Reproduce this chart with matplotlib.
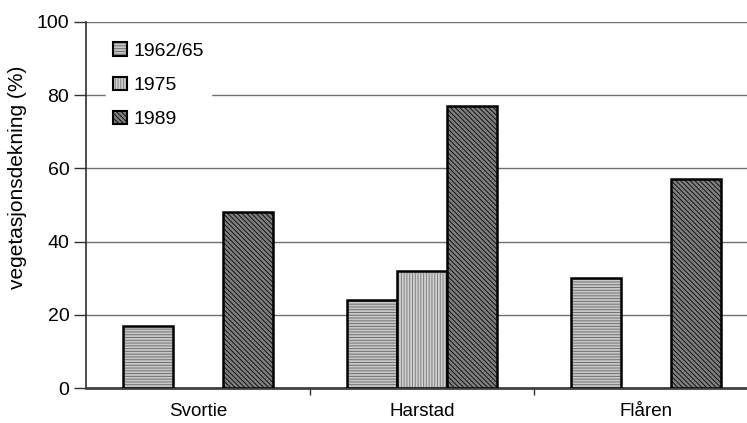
import numpy as np
import matplotlib
matplotlib.use('Agg')
from matplotlib import pyplot as plt

plt.rcParams['font.family'] = ['Liberation Sans', 'DejaVu Sans']
plt.rcParams['hatch.linewidth'] = 0.7

#%% DATA

steder = ['Svortie', 'Harstad', 'Flåren']
aar = ['1962/65', '1975', '1989']
v1962 = [17, 24, 30]
v1975 = [np.nan, 32, np.nan]
v1989 = [48, 77, 57]
yticks = [0, 20, 40, 60, 80, 100]

#%% PLOT

fig = plt.figure(figsize=(7.47, 4.23), dpi=100)
ax = fig.add_axes([86/747, 35/423, 1 - 86/747, 366/423])

x = np.arange(len(steder))
w = 0.224
stil = [('#c8c8c8', '#707070', '------'),
        ('#d0d0d0', '#808080', '||||||'),
        ('#808080', '#101010', '\\\\\\\\\\\\\\')]
serier = [v1962, v1975, v1989]

for i, (vals, (fc, hc, ht)) in enumerate(zip(serier, stil)):
    b = ax.bar(x + (i - 1) * w, vals, w, facecolor=fc, edgecolor='black',
               linewidth=1.8, hatch=ht, label=aar[i], zorder=3)
    for p in b:
        p._hatch_color = matplotlib.colors.to_rgba(hc)

ax.set_xlim(-0.5, 2.45)
ax.set_ylim(0, 100)
ax.set_yticks(yticks)
ax.set_xticks(x)
ax.set_xticklabels(steder, fontsize=13.5)
ax.set_xticks([0.5, 1.5], minor=True)
ax.tick_params(axis='x', which='major', length=0, pad=11)
ax.tick_params(axis='x', which='minor', length=5, width=1, color='#303030', direction='out')
ax.tick_params(axis='y', length=9, width=1, color='#303030', labelsize=14, pad=3)
ax.set_ylabel('vegetasjonsdekning (%)', fontsize=15)
ax.yaxis.set_label_coords(-0.09, 0.575)

ax.yaxis.grid(True, color='#707070', linewidth=1, zorder=0)
ax.set_axisbelow(True)
for s in ['top', 'right']:
    ax.spines[s].set_visible(False)
ax.spines['left'].set_color('#303030')
ax.spines['left'].set_linewidth(1.2)
ax.spines['bottom'].set_color('#404040')
ax.spines['bottom'].set_linewidth(2)

leg = ax.legend(loc='upper left', bbox_to_anchor=(0.016, 0.99), frameon=True,
                fontsize=14, handlelength=0.7, handleheight=0.7, handletextpad=0.35,
                labelspacing=0.85, borderpad=0.36, fancybox=False)
leg.get_frame().set_edgecolor('white')
leg.get_frame().set_facecolor('white')
leg.get_frame().set_alpha(1)
for h in leg.legend_handles:
    h.set_linewidth(1.5)

fig.savefig('out.png', dpi=100)
